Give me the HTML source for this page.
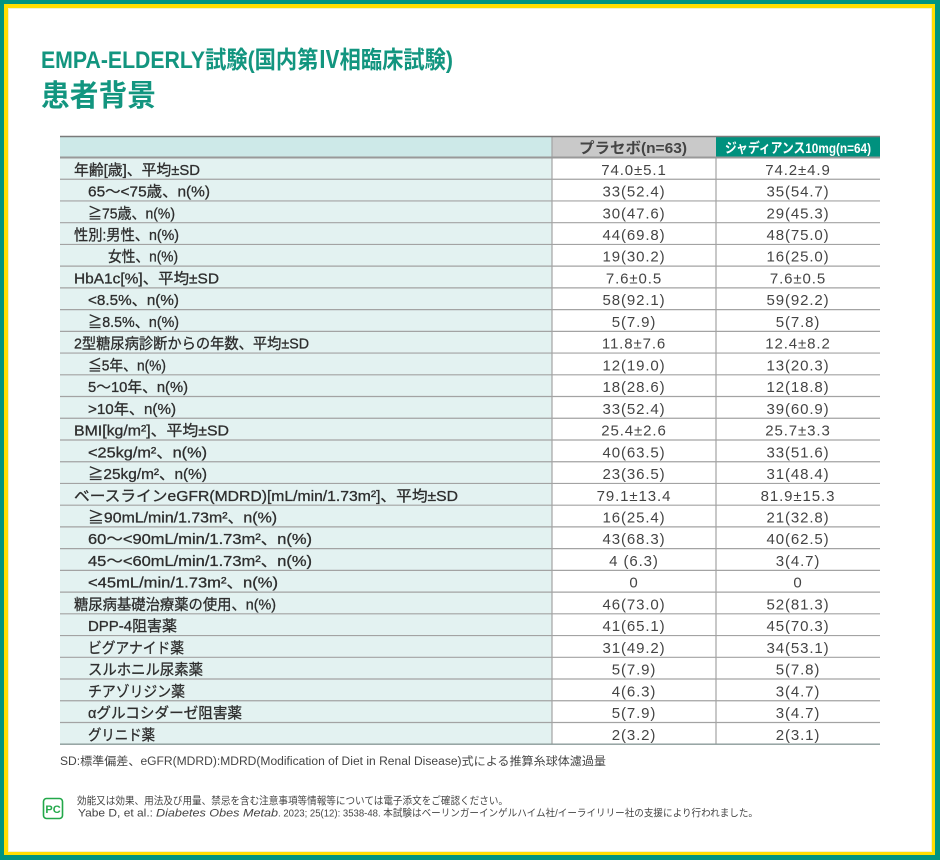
<!DOCTYPE html>
<html><head><meta charset="utf-8"><style>
html,body{margin:0;padding:0;background:#fff;}
svg{display:block;}
text{font-family:"Liberation Sans","Noto Sans CJK JP",sans-serif;}
.lb{font-size:15px;fill:#2e2e2e;stroke:#2e2e2e;stroke-width:0.3px;}
.nm{font-size:15px;fill:#444;letter-spacing:0.9px;}
</style></head><body>
<svg width="940" height="860" viewBox="0 0 940 860" xmlns="http://www.w3.org/2000/svg">
<rect x="0" y="0" width="940" height="860" fill="#009480"/>
<rect x="4" y="4" width="931" height="851" fill="#ffde00"/>
<rect x="8" y="8" width="924" height="844" fill="#eef3d6"/>
<rect x="9" y="9" width="922" height="842" fill="#ffffff"/>

<text x="41" y="68" font-size="24" font-weight="bold" fill="#12957f" textLength="412" lengthAdjust="spacingAndGlyphs">EMPA-ELDERLY試験(国内第Ⅳ相臨床試験)</text>
<text x="41" y="106" font-size="30" font-weight="bold" fill="#12957f" textLength="115" lengthAdjust="spacingAndGlyphs">患者背景</text>

<!-- table backgrounds -->
<rect x="60" y="136" width="492" height="21.5" fill="#cde9e8"/>
<rect x="552" y="136" width="164" height="21.5" fill="#c9c9c9"/>
<rect x="716" y="136" width="164" height="21.5" fill="#00917e"/>
<rect x="60" y="157.5" width="492" height="586.7" fill="#e3f2f1"/>

<text x="579" y="153" font-size="15" font-weight="bold" fill="#444" textLength="108" lengthAdjust="spacingAndGlyphs">プラセボ(n=63)</text>
<text x="725" y="153" font-size="14" font-weight="bold" fill="#fff" textLength="146" lengthAdjust="spacingAndGlyphs">ジャディアンス10mg(n=64)</text>

<!-- lines -->
<g stroke="#a3a3a3" stroke-width="1.2">
<line x1="60" y1="179.23" x2="880" y2="179.23"/>
<line x1="60" y1="200.96" x2="880" y2="200.96"/>
<line x1="60" y1="222.69" x2="880" y2="222.69"/>
<line x1="60" y1="244.42" x2="880" y2="244.42"/>
<line x1="60" y1="266.15" x2="880" y2="266.15"/>
<line x1="60" y1="287.88" x2="880" y2="287.88"/>
<line x1="60" y1="309.61" x2="880" y2="309.61"/>
<line x1="60" y1="331.34" x2="880" y2="331.34"/>
<line x1="60" y1="353.07" x2="880" y2="353.07"/>
<line x1="60" y1="374.8" x2="880" y2="374.8"/>
<line x1="60" y1="396.53" x2="880" y2="396.53"/>
<line x1="60" y1="418.26" x2="880" y2="418.26"/>
<line x1="60" y1="439.99" x2="880" y2="439.99"/>
<line x1="60" y1="461.72" x2="880" y2="461.72"/>
<line x1="60" y1="483.45" x2="880" y2="483.45"/>
<line x1="60" y1="505.18" x2="880" y2="505.18"/>
<line x1="60" y1="526.91" x2="880" y2="526.91"/>
<line x1="60" y1="548.64" x2="880" y2="548.64"/>
<line x1="60" y1="570.37" x2="880" y2="570.37"/>
<line x1="60" y1="592.1" x2="880" y2="592.1"/>
<line x1="60" y1="613.83" x2="880" y2="613.83"/>
<line x1="60" y1="635.56" x2="880" y2="635.56"/>
<line x1="60" y1="657.29" x2="880" y2="657.29"/>
<line x1="60" y1="679.02" x2="880" y2="679.02"/>
<line x1="60" y1="700.75" x2="880" y2="700.75"/>
<line x1="60" y1="722.48" x2="880" y2="722.48"/>
<line x1="552" y1="136" x2="552" y2="744.2"/>
<line x1="716" y1="157.5" x2="716" y2="744.2"/>
</g>
<line x1="60" y1="136.5" x2="880" y2="136.5" stroke="#7a7a7a" stroke-width="1.4"/>
<line x1="60" y1="157.5" x2="880" y2="157.5" stroke="#999" stroke-width="2"/>
<line x1="60" y1="744.2" x2="880" y2="744.2" stroke="#8a9a98" stroke-width="1.4"/>

<!-- labels -->
<g class="lb">
<text x="74" y="174.8" textLength="126" lengthAdjust="spacingAndGlyphs">年齢[歳]、平均±SD</text>
<text x="88" y="196.5" textLength="122" lengthAdjust="spacingAndGlyphs">65～&lt;75歳、n(%)</text>
<text x="88" y="218.3" textLength="87" lengthAdjust="spacingAndGlyphs">≧75歳、n(%)</text>
<text x="74" y="240.0" textLength="105" lengthAdjust="spacingAndGlyphs">性別:男性、n(%)</text>
<text x="108" y="261.7" textLength="70" lengthAdjust="spacingAndGlyphs">女性、n(%)</text>
<text x="74" y="283.5" textLength="145" lengthAdjust="spacingAndGlyphs">HbA1c[%]、平均±SD</text>
<text x="88" y="305.2" textLength="91" lengthAdjust="spacingAndGlyphs">&lt;8.5%、n(%)</text>
<text x="88" y="326.9" textLength="91" lengthAdjust="spacingAndGlyphs">≧8.5%、n(%)</text>
<text x="74" y="348.6" textLength="235" lengthAdjust="spacingAndGlyphs">2型糖尿病診断からの年数、平均±SD</text>
<text x="88" y="370.4" textLength="78" lengthAdjust="spacingAndGlyphs">≦5年、n(%)</text>
<text x="88" y="392.1" textLength="100" lengthAdjust="spacingAndGlyphs">5～10年、n(%)</text>
<text x="88" y="413.8" textLength="88" lengthAdjust="spacingAndGlyphs">&gt;10年、n(%)</text>
<text x="74" y="435.6" textLength="155" lengthAdjust="spacingAndGlyphs">BMI[kg/m²]、平均±SD</text>
<text x="88" y="457.3" textLength="119" lengthAdjust="spacingAndGlyphs">&lt;25kg/m²、n(%)</text>
<text x="88" y="479.0" textLength="119" lengthAdjust="spacingAndGlyphs">≧25kg/m²、n(%)</text>
<text x="74" y="500.8" textLength="384" lengthAdjust="spacingAndGlyphs">ベースラインeGFR(MDRD)[mL/min/1.73m²]、平均±SD</text>
<text x="88" y="522.5" textLength="189" lengthAdjust="spacingAndGlyphs">≧90mL/min/1.73m²、n(%)</text>
<text x="88" y="544.2" textLength="224" lengthAdjust="spacingAndGlyphs">60～&lt;90mL/min/1.73m²、n(%)</text>
<text x="88" y="565.9" textLength="224" lengthAdjust="spacingAndGlyphs">45～&lt;60mL/min/1.73m²、n(%)</text>
<text x="88" y="587.7" textLength="190" lengthAdjust="spacingAndGlyphs">&lt;45mL/min/1.73m²、n(%)</text>
<text x="74" y="609.4" textLength="202" lengthAdjust="spacingAndGlyphs">糖尿病基礎治療薬の使用、n(%)</text>
<text x="88" y="631.1" textLength="89" lengthAdjust="spacingAndGlyphs">DPP-4阻害薬</text>
<text x="88" y="652.9" textLength="96" lengthAdjust="spacingAndGlyphs">ビグアナイド薬</text>
<text x="88" y="674.6" textLength="115" lengthAdjust="spacingAndGlyphs">スルホニル尿素薬</text>
<text x="88" y="696.3" textLength="97" lengthAdjust="spacingAndGlyphs">チアゾリジン薬</text>
<text x="88" y="718.1" textLength="154" lengthAdjust="spacingAndGlyphs">αグルコシダーゼ阻害薬</text>
<text x="88" y="739.8" textLength="67" lengthAdjust="spacingAndGlyphs">グリニド薬</text>
</g>

<!-- placebo -->
<g class="nm" text-anchor="middle">
<text x="634" y="174.8">74.0±5.1</text>
<text x="634" y="196.5">33(52.4)</text>
<text x="634" y="218.3">30(47.6)</text>
<text x="634" y="240.0">44(69.8)</text>
<text x="634" y="261.7">19(30.2)</text>
<text x="634" y="283.5">7.6±0.5</text>
<text x="634" y="305.2">58(92.1)</text>
<text x="634" y="326.9">5(7.9)</text>
<text x="634" y="348.6">11.8±7.6</text>
<text x="634" y="370.4">12(19.0)</text>
<text x="634" y="392.1">18(28.6)</text>
<text x="634" y="413.8">33(52.4)</text>
<text x="634" y="435.6">25.4±2.6</text>
<text x="634" y="457.3">40(63.5)</text>
<text x="634" y="479.0">23(36.5)</text>
<text x="634" y="500.8">79.1±13.4</text>
<text x="634" y="522.5">16(25.4)</text>
<text x="634" y="544.2">43(68.3)</text>
<text x="634" y="565.9">4 (6.3)</text>
<text x="634" y="587.7">0</text>
<text x="634" y="609.4">46(73.0)</text>
<text x="634" y="631.1">41(65.1)</text>
<text x="634" y="652.9">31(49.2)</text>
<text x="634" y="674.6">5(7.9)</text>
<text x="634" y="696.3">4(6.3)</text>
<text x="634" y="718.1">5(7.9)</text>
<text x="634" y="739.8">2(3.2)</text>
</g>

<!-- jardiance -->
<g class="nm" text-anchor="middle">
<text x="798" y="174.8">74.2±4.9</text>
<text x="798" y="196.5">35(54.7)</text>
<text x="798" y="218.3">29(45.3)</text>
<text x="798" y="240.0">48(75.0)</text>
<text x="798" y="261.7">16(25.0)</text>
<text x="798" y="283.5">7.6±0.5</text>
<text x="798" y="305.2">59(92.2)</text>
<text x="798" y="326.9">5(7.8)</text>
<text x="798" y="348.6">12.4±8.2</text>
<text x="798" y="370.4">13(20.3)</text>
<text x="798" y="392.1">12(18.8)</text>
<text x="798" y="413.8">39(60.9)</text>
<text x="798" y="435.6">25.7±3.3</text>
<text x="798" y="457.3">33(51.6)</text>
<text x="798" y="479.0">31(48.4)</text>
<text x="798" y="500.8">81.9±15.3</text>
<text x="798" y="522.5">21(32.8)</text>
<text x="798" y="544.2">40(62.5)</text>
<text x="798" y="565.9">3(4.7)</text>
<text x="798" y="587.7">0</text>
<text x="798" y="609.4">52(81.3)</text>
<text x="798" y="631.1">45(70.3)</text>
<text x="798" y="652.9">34(53.1)</text>
<text x="798" y="674.6">5(7.8)</text>
<text x="798" y="696.3">3(4.7)</text>
<text x="798" y="718.1">3(4.7)</text>
<text x="798" y="739.8">2(3.1)</text>
</g>

<!-- footnote -->
<text x="60" y="765" font-size="11.5" fill="#444" textLength="546" lengthAdjust="spacingAndGlyphs">SD:標準偏差、eGFR(MDRD):MDRD(Modification of Diet in Renal Disease)式による推算糸球体濾過量</text>

<!-- PC icon -->
<rect x="43.5" y="798.5" width="19" height="20" rx="3" ry="3" fill="#fff" stroke="#23a84a" stroke-width="1.6"/>
<text x="53" y="813" font-size="11" font-weight="bold" fill="#23a84a" text-anchor="middle">PC</text>

<text x="77" y="804" font-size="10.5" fill="#444" textLength="431" lengthAdjust="spacingAndGlyphs">効能又は効果、用法及び用量、禁忌を含む注意事項等情報等については電子添文をご確認ください。</text>
<text x="78" y="816.5" font-size="11" fill="#444" textLength="75" lengthAdjust="spacingAndGlyphs">Yabe D, et al.:</text>
<text x="156" y="816.5" font-size="11" fill="#444" font-style="italic" textLength="122" lengthAdjust="spacingAndGlyphs">Diabetes Obes Metab</text>
<text x="278" y="816.5" font-size="10" fill="#444" textLength="480" lengthAdjust="spacingAndGlyphs">. 2023; 25(12): 3538-48. 本試験はベーリンガーインゲルハイム社/イーライリリー社の支援により行われました。</text>
</svg>
</body></html>
